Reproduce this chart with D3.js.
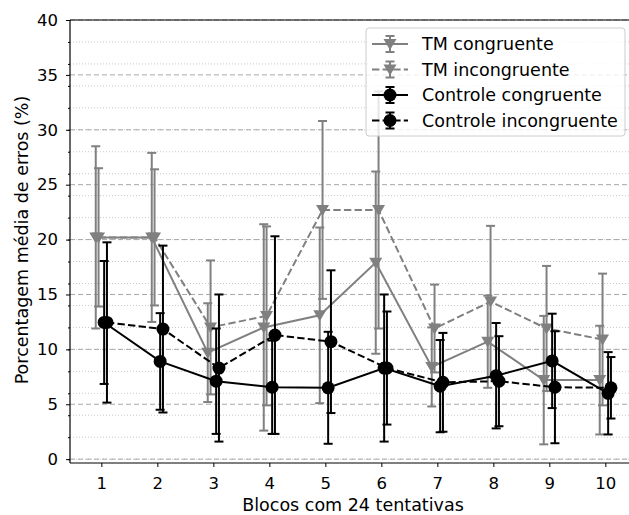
<!DOCTYPE html>
<html>
<head>
<meta charset="utf-8">
<script src="https://cdn.jsdelivr.net/npm/d3@7"></script>
<style>
  body { margin: 0; background: #fff; }
  svg text { font-family: "DejaVu Sans", sans-serif; fill: #000; }
</style>
</head>
<body>
<svg id="chart" width="629" height="515"></svg>
<script>
// dados
const blocos = [1, 2, 3, 4, 5, 6, 7, 8, 9, 10];
const yTicks = [0, 5, 10, 15, 20, 25, 30, 35, 40];

const tmCong = [20.2, 20.2, 9.7, 12.0, 13.1, 17.9, 8.4, 10.7, 7.2, 7.2];
const tmCongErr = [8.3, 7.7, 4.5, 9.4, 8.0, 8.3, 3.6, 4.2, 5.85, 4.95];
const tmIncong = [20.2, 20.2, 12.0, 13.05, 22.7, 22.7, 11.9, 14.35, 11.9, 10.9];
const tmIncongErr = [6.3, 6.2, 6.1, 8.15, 8.1, 10.8, 4.0, 6.9, 5.7, 6.0];
const ctrlCong = [12.45, 8.9, 7.1, 6.55, 6.5, 8.3, 6.65, 7.6, 8.95, 6.0];
const ctrlCongErr = [5.6, 4.4, 4.8, 4.25, 5.1, 6.7, 4.2, 4.8, 4.3, 3.75];
const ctrlIncong = [12.45, 11.85, 8.3, 11.3, 10.7, 8.3, 7.0, 7.1, 6.55, 6.5];
const ctrlIncongErr = [7.3, 7.6, 6.7, 9.0, 6.5, 5.15, 4.5, 4.1, 5.1, 2.8];

const series = [
  { name: "TM congruente", values: tmCong, err: tmCongErr, offset: -0.1, color: "#808080", dash: null, marker: "tri" },
  { name: "TM incongruente", values: tmIncong, err: tmIncongErr, offset: -0.05, color: "#808080", dash: "7.4,3.2", marker: "tri" },
  { name: "Controle congruente", values: ctrlCong, err: ctrlCongErr, offset: 0.05, color: "#000000", dash: null, marker: "circ" },
  { name: "Controle incongruente", values: ctrlIncong, err: ctrlIncongErr, offset: 0.1, color: "#000000", dash: "7.4,3.2", marker: "circ" }
];

const svg = d3.select("#chart");
const right = 636.7;

const x = d3.scaleLinear().domain([0.44, 10.56]).range([70, right]);
const y = d3.scaleLinear().domain([-0.35, 40]).range([463, 20]);

// grade menor pontilhada
const minor = d3.range(0, 41, 2);
svg.append("g").selectAll("line").data(minor).join("line")
  .attr("x1", 70).attr("x2", right)
  .attr("y1", d => y(d)).attr("y2", d => y(d))
  .attr("stroke", "#c8c8c8").attr("stroke-width", 1)
  .attr("stroke-dasharray", "1,2");

// grade maior tracejada
svg.append("g").selectAll("line").data(yTicks).join("line")
  .attr("x1", 70).attr("x2", right)
  .attr("y1", d => y(d)).attr("y2", d => y(d))
  .attr("stroke", "#a8a8a8").attr("stroke-width", 1)
  .attr("stroke-dasharray", "5,3");

// símbolos
const triPath = "M-6.5,-5 L6.5,-5 L0,6 Z";

function drawMarker(sel, s, cx, cy) {
  if (s.marker === "tri") {
    sel.append("path").attr("d", triPath)
      .attr("transform", `translate(${cx},${cy})`)
      .attr("fill", s.color);
  } else {
    sel.append("circle").attr("cx", cx).attr("cy", cy).attr("r", 6.5)
      .attr("fill", s.color);
  }
}

const line = d3.line();

series.forEach(s => {
  const g = svg.append("g");
  const pts = s.values.map((v, i) => [x(blocos[i] + s.offset), y(v)]);

  // barras de erro
  s.values.forEach((v, i) => {
    const cx = x(blocos[i] + s.offset);
    const top = y(v + s.err[i]), bot = y(v - s.err[i]);
    g.append("line").attr("x1", cx).attr("x2", cx).attr("y1", top).attr("y2", bot)
      .attr("stroke", s.color).attr("stroke-width", 2);
    [top, bot].forEach(yy => {
      g.append("line").attr("x1", cx - 4.5).attr("x2", cx + 4.5).attr("y1", yy).attr("y2", yy)
        .attr("stroke", s.color).attr("stroke-width", 2);
    });
  });

  g.append("path").attr("d", line(pts))
    .attr("fill", "none").attr("stroke", s.color).attr("stroke-width", 2)
    .attr("stroke-dasharray", s.dash);

  pts.forEach(p => drawMarker(g, s, p[0], p[1]));
});

// eixos
const xAxis = svg.append("g").attr("transform", "translate(0,463)")
  .call(d3.axisBottom(x).tickValues(blocos).tickSize(4).tickPadding(10).tickFormat(d3.format("d")));
const yAxis = svg.append("g").attr("transform", "translate(70,0)")
  .call(d3.axisLeft(y).tickValues(yTicks).tickSize(4).tickPadding(8));
svg.append("g").attr("transform", "translate(70,0)")
  .call(d3.axisLeft(y).tickValues(minor).tickSize(2).tickFormat(""))
  .select(".domain").remove();

[xAxis, yAxis].forEach(a => {
  a.selectAll("text").attr("font-size", 16.5).attr("font-family", "DejaVu Sans");
  a.selectAll("line").attr("stroke", "#000");
  a.select(".domain").attr("stroke", "#000").attr("stroke-width", 1.2);
});
xAxis.select(".domain").attr("d", `M70,0H${right}`);
yAxis.select(".domain").attr("d", "M0,20V463");

// borda superior
svg.append("line").attr("x1", 70).attr("x2", right).attr("y1", 20).attr("y2", 20)
  .attr("stroke", "#000").attr("stroke-width", 1.2);

// rótulos
svg.append("text").attr("x", 353).attr("y", 510.5).attr("text-anchor", "middle")
  .attr("font-size", 17.5).text("Blocos com 24 tentativas");
svg.append("text").attr("transform", "translate(28,240) rotate(-90)")
  .attr("text-anchor", "middle").attr("font-size", 17.5)
  .text("Porcentagem média de erros (%)");

// legenda
const leg = svg.append("g");
leg.append("rect").attr("x", 366).attr("y", 28).attr("width", 259).attr("height", 108)
  .attr("rx", 3).attr("fill", "#fff").attr("fill-opacity", 0.8)
  .attr("stroke", "#cccccc").attr("stroke-width", 1);

series.forEach((s, i) => {
  const cy = 44 + i * 25.5;
  const gi = leg.append("g");
  gi.append("line").attr("x1", 372).attr("x2", 408).attr("y1", cy).attr("y2", cy)
    .attr("stroke", s.color).attr("stroke-width", 2).attr("stroke-dasharray", s.dash);
  gi.append("line").attr("x1", 390).attr("x2", 390).attr("y1", cy - 8).attr("y2", cy + 8)
    .attr("stroke", s.color).attr("stroke-width", 2);
  [cy - 8, cy + 8].forEach(yy => gi.append("line").attr("x1", 385.5).attr("x2", 394.5)
    .attr("y1", yy).attr("y2", yy).attr("stroke", s.color).attr("stroke-width", 2));
  drawMarker(gi, s, 390, cy);
  gi.append("text").attr("x", 422).attr("y", cy + 6).attr("font-size", 17.5).text(s.name);
});
</script>
</body>
</html>
